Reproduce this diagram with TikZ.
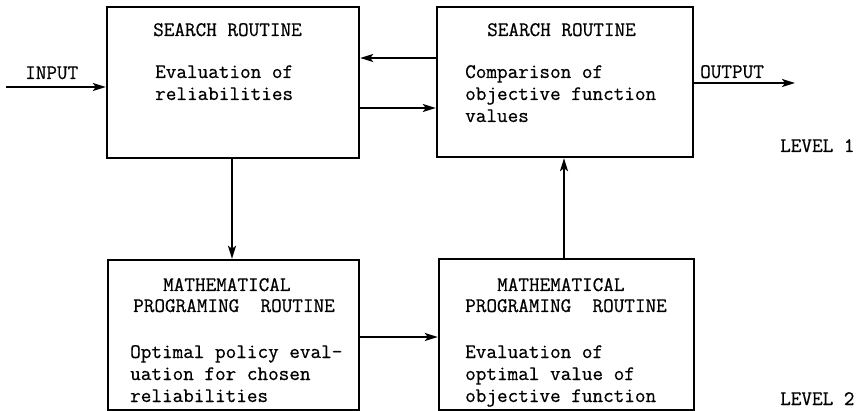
\documentclass[tikz,border=0pt]{standalone}
\usepackage{fontspec}
\setmonofont{Latin Modern Mono}[FakeBold=0.6]
\usetikzlibrary{arrows.meta}
\begin{document}
\begin{tikzpicture}[x=1pt, y=-1pt,
  box/.style={draw, line width=2.4pt, rectangle, inner sep=0pt},
  arr/.style={line width=1.7pt, -{Stealth[length=13pt, width=8pt, inset=3pt]}},
  txt/.style={font=\ttfamily\fontsize{20.6}{22}\selectfont, inner sep=0pt, anchor=base west}
]
\useasboundingbox (0,0) rectangle (864,411);

% the four routine boxes
\node[box, minimum width=252pt, minimum height=151pt] (A) at (233,82.5) {};
\node[box, minimum width=256pt, minimum height=150pt] (B) at (565,82) {};
\node[box, minimum width=251pt, minimum height=150pt] (C) at (233.5,335) {};
\node[box, minimum width=255pt, minimum height=151pt] (D) at (566.5,334.5) {};

% box texts
\node[txt] (tA) at (153,36) {SEARCH ROUTINE};
\node[txt] (bA) at (155,78) {\begin{tabular}[t]{@{}l@{}}Evaluation of\\reliabilities\end{tabular}};

\node[txt] (tB) at (487,36) {SEARCH ROUTINE};
\node[txt] (bB) at (465,78) {\begin{tabular}[t]{@{}l@{}}Comparison of\\objective function\\values\end{tabular}};

\node[txt] (tC1) at (163,291) {MATHEMATICAL};
\node[txt] (tC2) at (133,312) {PROGRAMING\ \ ROUTINE};
\node[txt] (bC) at (130,358) {\begin{tabular}[t]{@{}l@{}}Optimal policy eval-\\uation for chosen\\reliabilities\end{tabular}};

\node[txt] (tD1) at (497,291) {MATHEMATICAL};
\node[txt] (tD2) at (465,312) {PROGRAMING\ \ ROUTINE};
\node[txt] (bD) at (465,358) {\begin{tabular}[t]{@{}l@{}}Evaluation of\\optimal value of\\objective function\end{tabular}};

% outer labels
\node[txt] (lin) at (25,79) {INPUT};
\node[txt] (lout) at (700,78) {OUTPUT};
\node[txt] (lv1) at (780,152) {LEVEL 1};
\node[txt] (lv2) at (780,405) {LEVEL 2};

% helper coordinates for connector levels
\coordinate (in) at (6,87);
\coordinate (out) at (795,83);
\coordinate (yBA) at (0,58);
\coordinate (yAB) at (0,108);
\coordinate (yCD) at (0,337);
\coordinate (xAC) at (232,0);
\coordinate (xDB) at (564,0);

% connectors
\draw[arr] (in) -- (in -| A.west);
\draw[arr] (B.west |- yBA) -- (A.east |- yBA);
\draw[arr] (A.east |- yAB) -- (B.west |- yAB);
\draw[arr] (xAC |- A.south) -- (xAC |- C.north);
\draw[arr] (C.east |- yCD) -- (D.west |- yCD);
\draw[arr] (xDB |- D.north) -- (xDB |- B.south);
\draw[arr] (B.east |- out) -- (out);
\end{tikzpicture}
\end{document}
